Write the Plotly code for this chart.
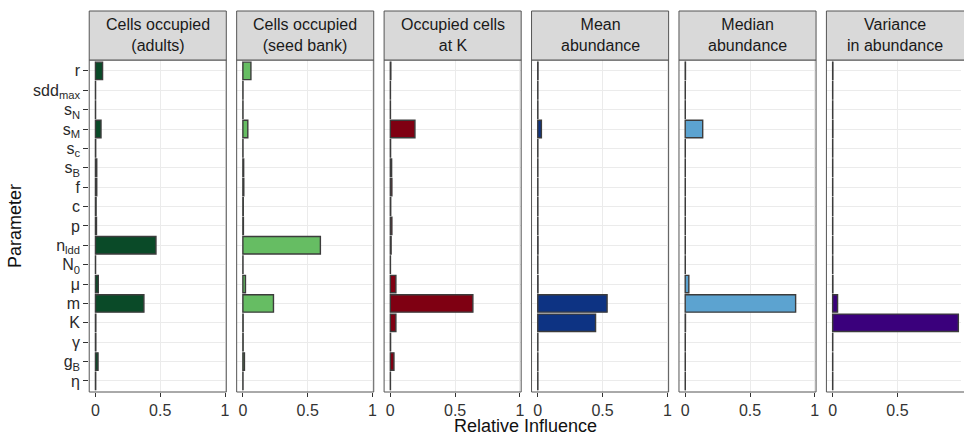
import plotly.graph_objects as go
from plotly.subplots import make_subplots

params = ["r", "sdd_max", "s_N", "s_M", "s_c", "s_B", "f", "c", "p", "n_ldd",
          "N_0", "mu", "m", "K", "gamma", "g_B", "eta"]
param_labels = ["r", "sdd<sub>max</sub>", "s<sub>N</sub>", "s<sub>M</sub>", "s<sub>c</sub>",
                "s<sub>B</sub>", "f", "c", "p", "n<sub>ldd</sub>", "N<sub>0</sub>", "μ", "m",
                "K", "γ", "g<sub>B</sub>", "η"]

facet_titles = ["Cells occupied<br>(adults)", "Cells occupied<br>(seed bank)",
                "Occupied cells<br>at K", "Mean<br>abundance", "Median<br>abundance",
                "Variance<br>in abundance"]
facet_colors = ["#0A4A28", "#66BD63", "#7F0012", "#0D3383", "#5CA3D0", "#3A007C"]

adults =    [0.055, 0.001, 0.001, 0.043, 0.002, 0.010, 0.010, 0.005, 0.008, 0.467, 0.001, 0.022, 0.374, 0.003, 0.003, 0.020, 0.002]
seed_bank = [0.062, 0.001, 0.001, 0.038, 0.001, 0.006, 0.007, 0.003, 0.004, 0.598, 0.001, 0.020, 0.236, 0.002, 0.002, 0.012, 0.001]
occ_at_K =  [0.004, 0.001, 0.001, 0.190, 0.002, 0.010, 0.012, 0.003, 0.012, 0.006, 0.001, 0.043, 0.637, 0.043, 0.002, 0.028, 0.001]
mean_ab =   [0.002, 0.001, 0.001, 0.028, 0.001, 0.001, 0.001, 0.001, 0.001, 0.002, 0.001, 0.002, 0.535, 0.446, 0.001, 0.001, 0.001]
median_ab = [0.002, 0.001, 0.001, 0.135, 0.001, 0.001, 0.001, 0.001, 0.001, 0.001, 0.001, 0.028, 0.852, 0.002, 0.001, 0.001, 0.001]
var_ab =    [0.002, 0.001, 0.001, 0.002, 0.001, 0.001, 0.001, 0.001, 0.001, 0.001, 0.001, 0.002, 0.038, 0.970, 0.001, 0.001, 0.001]
series = [adults, seed_bank, occ_at_K, mean_ab, median_ab, var_ab]

x_ticks = [0, 0.5, 1]
x_tick_text = ["0", "0.5", "1"]

W, H = 964, 435
FONT = "Liberation Sans, Arial, sans-serif"

fig = make_subplots(rows=1, cols=6, shared_yaxes=True)

panel_top, panel_bot = 60, 392
y0p, y1p = 1 - panel_bot / H, 1 - panel_top / H
px_per_unit = 130.0
xmin = -0.048
PW = 137.5

for i, (vals, col) in enumerate(zip(series, facet_colors)):
    left = 89.5 + 147.9 * i
    right = min(left + PW, W)
    xmax = xmin + (right - left) / px_per_unit
    fig.add_trace(go.Bar(
        x=vals, y=params, orientation="h", width=0.9,
        marker=dict(color=col, line=dict(color="#3C3C3C", width=1.4)),
        showlegend=False, hoverinfo="x+y"), row=1, col=i + 1)
    ax = "xaxis" if i == 0 else f"xaxis{i+1}"
    ay = "yaxis" if i == 0 else f"yaxis{i+1}"
    fig.layout[ax].update(
        domain=[left / W, right / W], range=[xmin, xmax],
        tickvals=x_ticks, ticktext=x_tick_text, ticks="outside", ticklen=4,
        tickcolor="#333333", tickwidth=1, showgrid=True, gridcolor="#EBEBEB",
        gridwidth=1.2, zeroline=False, showline=False,
        tickfont=dict(family=FONT, size=16, color="#333333"))
    fig.layout[ay].update(
        domain=[y0p, y1p], categoryorder="array", categoryarray=params,
        range=[16.57, -0.56], showgrid=True, gridcolor="#EBEBEB", gridwidth=1.2,
        zeroline=False, showline=False,
        tickvals=params, ticktext=param_labels,
        ticks="outside" if i == 0 else "", ticklen=5, tickcolor="#333333",
        showticklabels=(i == 0),
        tickfont=dict(family=FONT, size=16, color="#2A2A2A"))
    x1s = right / W if right < W else 1.01
    # panel border
    fig.add_shape(type="rect", xref="paper", yref="paper",
                  x0=left / W, x1=x1s, y0=y0p, y1=y1p,
                  line=dict(color="#555555", width=1), fillcolor="rgba(0,0,0,0)",
                  layer="above")
    # strip
    fig.add_shape(type="rect", xref="paper", yref="paper",
                  x0=left / W, x1=x1s, y0=1 - 60 / H, y1=1 - 11 / H,
                  line=dict(color="#555555", width=1), fillcolor="#D9D9D9",
                  layer="above")
    fig.add_annotation(text=facet_titles[i], xref="paper", yref="paper",
                       x=(left + PW / 2) / W, y=1 - 35.5 / H, showarrow=False,
                       xanchor="center", yanchor="middle",
                       font=dict(family=FONT, size=16, color="#1A1A1A"))

fig.add_annotation(text="Relative Influence", xref="paper", yref="paper",
                   x=527 / W, y=1 - 425.5 / H, showarrow=False, xanchor="center",
                   yanchor="middle", font=dict(family=FONT, size=18, color="#111111"))
fig.add_annotation(text="Parameter", xref="paper", yref="paper",
                   x=15 / W, y=1 - 226 / H, showarrow=False, textangle=-90,
                   xanchor="center", yanchor="middle",
                   font=dict(family=FONT, size=18, color="#111111"))

fig.update_layout(width=W, height=H, margin=dict(l=0, r=0, t=0, b=0),
                  paper_bgcolor="white", plot_bgcolor="white", bargap=0.1,
                  font=dict(family=FONT))

fig.write_html("out.html", config={"displayModeBar": False},
               post_script="document.body.style.margin='0';")
